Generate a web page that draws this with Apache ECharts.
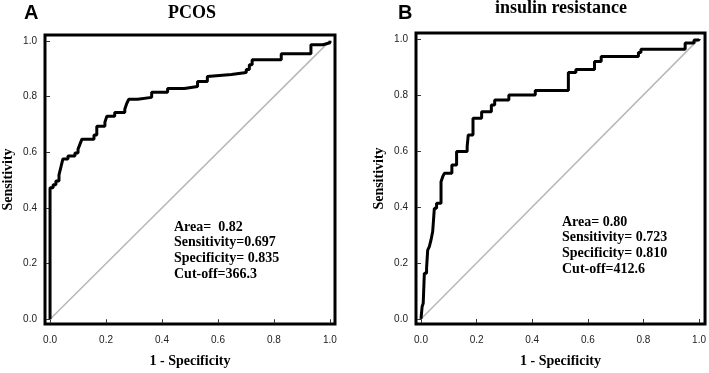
<!DOCTYPE html>
<html>
<head>
<meta charset="utf-8">
<script src="https://cdn.jsdelivr.net/npm/echarts@6/dist/echarts.min.js"></script>
<style>
  html, body { margin: 0; padding: 0; background: #fff; }
  #chart { width: 709px; height: 373px; }
</style>
</head>
<body>
<div id="chart"></div>
<script>
// ROC curve A (PCOS): false positive rate / true positive rate at each step
const fprA = [0, 0, 0.011, 0.021, 0.032, 0.039, 0.046, 0.064, 0.089, 0.100, 0.107, 0.114, 0.157, 0.167, 0.196, 0.203, 0.231, 0.267, 0.274, 0.281, 0.313, 0.363, 0.420, 0.480, 0.527, 0.562, 0.569, 0.648, 0.701, 0.712, 0.722, 0.826, 0.932, 0.975, 1]
const tprA = [0, 0.472, 0.483, 0.497, 0.519, 0.547, 0.576, 0.586, 0.597, 0.611, 0.629, 0.647, 0.662, 0.693, 0.708, 0.729, 0.743, 0.754, 0.775, 0.790, 0.797, 0.815, 0.829, 0.836, 0.854, 0.872, 0.879, 0.886, 0.897, 0.914, 0.932, 0.954, 0.986, 0.993, 1]

// ROC curve B (insulin resistance)
const fprB = [0, 0.004, 0.008, 0.012, 0.020, 0.024, 0.030, 0.036, 0.042, 0.048, 0.056, 0.072, 0.078, 0.084, 0.111, 0.128, 0.166, 0.170, 0.187, 0.218, 0.253, 0.265, 0.316, 0.411, 0.530, 0.557, 0.624, 0.648, 0.782, 0.791, 0.950, 0.982, 1]
const tprB = [0, 0.044, 0.056, 0.163, 0.181, 0.246, 0.258, 0.282, 0.312, 0.395, 0.413, 0.490, 0.508, 0.520, 0.550, 0.598, 0.615, 0.657, 0.717, 0.740, 0.764, 0.782, 0.800, 0.816, 0.880, 0.891, 0.919, 0.937, 0.951, 0.963, 0.985, 0.996, 1]

// reference line
const diagX = [0, 1]
const diagY = [0, 1]

const tickValues = [0, 0.2, 0.4, 0.6, 0.8, 1.0]

const panelLetters = ['A', 'B']
const panelTitles = ['PCOS', 'insulin resistance']
const statsA = ['Area=  0.82', 'Sensitivity=0.697', 'Specificity= 0.835', 'Cut-off=366.3']
const statsB = ['Area= 0.80', 'Sensitivity= 0.723', 'Specificity= 0.810', 'Cut-off=412.6']

const zip = (xs, ys) => xs.map((x, i) => [x, ys[i]])

const serif = '"Liberation Serif", "DejaVu Serif", serif'
const sans = '"Liberation Sans", Arial, sans-serif'

const chart = echarts.init(document.getElementById('chart'))

const gridStyle = {
  show: true,
  borderColor: '#000',
  borderWidth: 3,
  backgroundColor: '#fff',
}

const makeX = (gridIndex, min, max) => ({
  type: 'value',
  gridIndex,
  min,
  max,
  name: '1 - Specificity',
  nameLocation: 'middle',
  nameGap: 30,
  nameTextStyle: { fontFamily: serif, fontWeight: 'bold', fontSize: 14, color: '#000' },
  splitLine: { show: false },
  axisLine: { show: false },
  axisTick: {
    show: true,
    length: 4,
    customValues: tickValues,
    lineStyle: { color: '#333', width: 1 },
  },
  axisLabel: {
    customValues: tickValues,
    margin: 11,
    fontFamily: sans,
    fontSize: 10,
    color: '#222',
    formatter: (v) => v.toFixed(1),
  },
})

const makeY = (gridIndex, min, max) => ({
  type: 'value',
  gridIndex,
  min,
  max,
  name: 'Sensitivity',
  nameLocation: 'middle',
  nameGap: 30,
  nameTextStyle: { fontFamily: serif, fontWeight: 'bold', fontSize: 14, color: '#000' },
  splitLine: { show: false },
  axisLine: { show: false },
  axisTick: {
    show: true,
    length: 4,
    customValues: tickValues,
    lineStyle: { color: '#333', width: 1 },
  },
  axisLabel: {
    customValues: tickValues,
    margin: 8,
    fontFamily: sans,
    fontSize: 10,
    color: '#222',
    formatter: (v) => v.toFixed(1),
  },
})

const rocSeries = (idx, data) => ({
  type: 'line',
  xAxisIndex: idx,
  yAxisIndex: idx,
  data,
  step: 'end',
  showSymbol: false,
  z: 3,
  lineStyle: { color: '#000', width: 3 },
})

const diagSeries = (idx) => ({
  type: 'line',
  xAxisIndex: idx,
  yAxisIndex: idx,
  data: zip(diagX, diagY),
  showSymbol: false,
  z: 2,
  lineStyle: { color: '#b8b8b8', width: 1.5 },
})

const option = {
  animation: false,
  backgroundColor: '#fff',
  grid: [
    Object.assign({ left: 44, top: 35, width: 291, height: 291 }, gridStyle),
    Object.assign({ left: 416, top: 33, width: 290, height: 291 }, gridStyle),
  ],
  xAxis: [makeX(0, -0.018, 1.018), makeX(1, -0.018, 1.0215)],
  yAxis: [makeY(0, -0.017, 1.021), makeY(1, -0.018, 1.021)],
  series: [
    diagSeries(0),
    rocSeries(0, zip(fprA, tprA)),
    diagSeries(1),
    rocSeries(1, zip(fprB, tprB)),
  ],
  graphic: [
    {
      type: 'text', left: 24, top: 3,
      style: { text: panelLetters[0], font: 'bold 20px ' + sans, fill: '#000' },
    },
    {
      type: 'text', left: 398, top: 3,
      style: { text: panelLetters[1], font: 'bold 20px ' + sans, fill: '#000' },
    },
    {
      type: 'text', x: 192, y: 13,
      style: { text: panelTitles[0], font: 'bold 18px ' + serif, fill: '#000', align: 'center', verticalAlign: 'middle' },
    },
    {
      type: 'text', x: 561, y: 8,
      style: { text: panelTitles[1], font: 'bold 18px ' + serif, fill: '#000', align: 'center', verticalAlign: 'middle' },
    },
    {
      type: 'text', x: 174, y: 219,
      style: { text: statsA.join('\n'), font: 'bold 14px ' + serif, lineHeight: 15.8, fill: '#000' },
    },
    {
      type: 'text', x: 562, y: 214,
      style: { text: statsB.join('\n'), font: 'bold 14px ' + serif, lineHeight: 15.8, fill: '#000' },
    },
  ],
}

chart.setOption(option)
</script>
</body>
</html>
